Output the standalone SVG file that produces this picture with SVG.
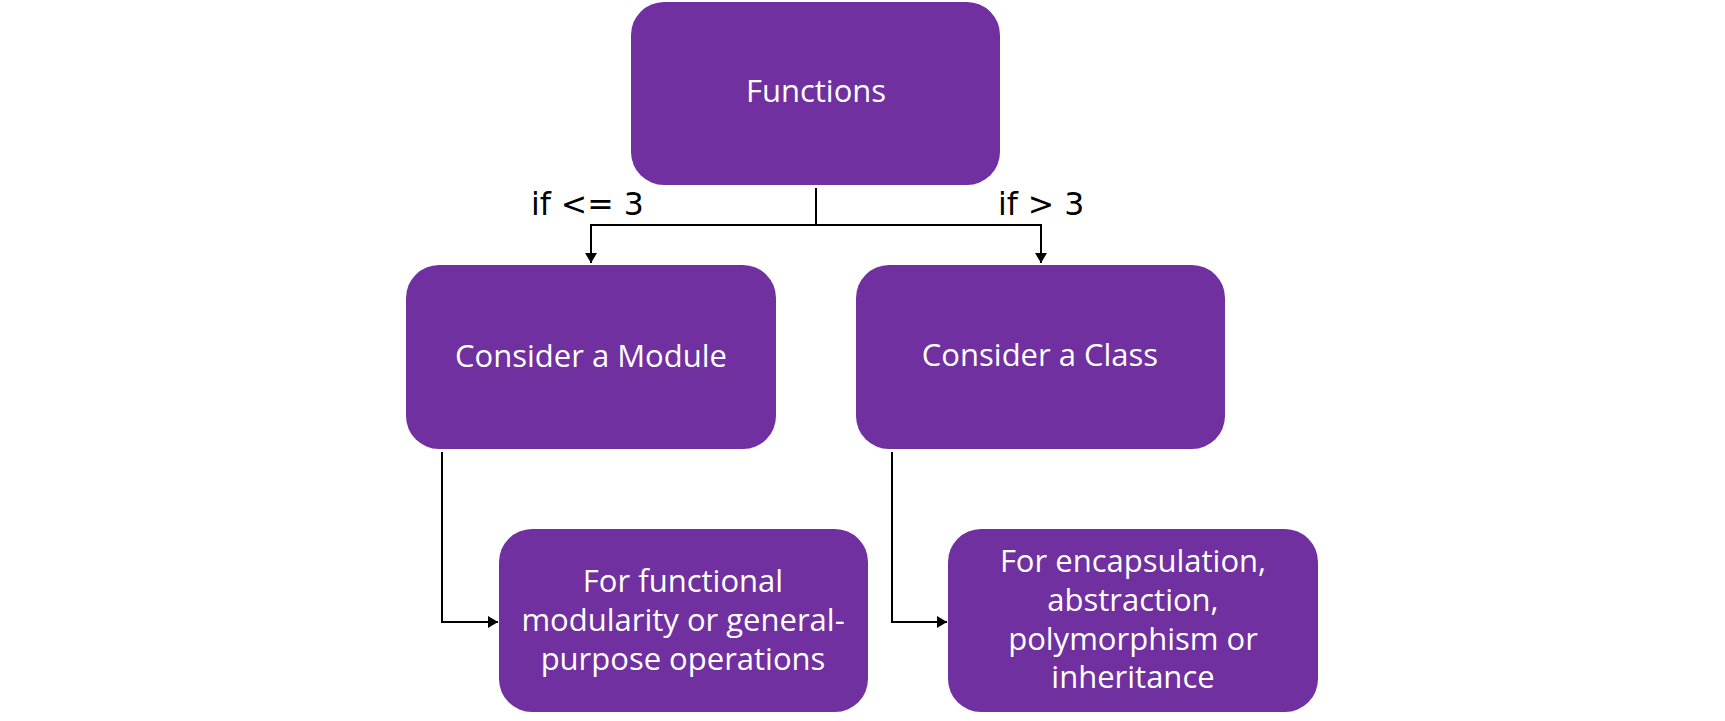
<svg xmlns="http://www.w3.org/2000/svg" width="1725" height="721" viewBox="0 0 1725 721">
<style>
.box{fill:#7030A0;}
.t{font-family:"Open Sans","Liberation Sans",sans-serif;font-size:31px;fill:#FFFFFF;text-anchor:middle;}
.lbl{font-family:"DejaVu Sans","Liberation Sans",sans-serif;font-size:31.5px;fill:#000000;}
.c{fill:none;stroke:#000000;stroke-width:2;}
</style>
<defs>
<marker id="arr" markerUnits="userSpaceOnUse" markerWidth="12" markerHeight="12" viewBox="0 0 10 12" refX="10" refY="6" orient="auto">
<path d="M0,0 L10,6 L0,12 Z" fill="#000000"/>
</marker>
</defs>
<rect width="1725" height="721" fill="#FFFFFF"/>
<g id="connectors">
<path class="c" d="M816,188 V225"/>
<path class="c" d="M591,225 H1041"/>
<path class="c" d="M591,224 V263" marker-end="url(#arr)"/>
<path class="c" d="M1041,224 V263" marker-end="url(#arr)"/>
<path class="c" d="M442,452 V622 H498" marker-end="url(#arr)"/>
<path class="c" d="M892,452 V622 H947" marker-end="url(#arr)"/>
<text class="lbl" x="531" y="215">if &lt;= 3</text>
<text class="lbl" x="998" y="215">if &gt; 3</text>
</g>
<g id="functions">
<rect class="box" x="631" y="2" width="369" height="183" rx="33"/>
<text class="t" x="816" y="102">Functions</text>
</g>
<g id="module">
<rect class="box" x="406" y="265" width="370" height="184" rx="33"/>
<text class="t" x="591" y="367">Consider a Module</text>
</g>
<g id="class">
<rect class="box" x="856" y="265" width="369" height="184" rx="33"/>
<text class="t" x="1040" y="366">Consider a Class</text>
</g>
<g id="module-purpose">
<rect class="box" x="499" y="529" width="369" height="183" rx="33"/>
<text class="t" x="683" y="592">For functional</text>
<text class="t" x="683" y="631">modularity or general-</text>
<text class="t" x="683" y="670">purpose operations</text>
</g>
<g id="class-purpose">
<rect class="box" x="948" y="529" width="370" height="183" rx="33"/>
<text class="t" x="1133" y="572">For encapsulation,</text>
<text class="t" x="1133" y="611">abstraction,</text>
<text class="t" x="1133" y="650">polymorphism or</text>
<text class="t" x="1133" y="688">inheritance</text>
</g>
</svg>
